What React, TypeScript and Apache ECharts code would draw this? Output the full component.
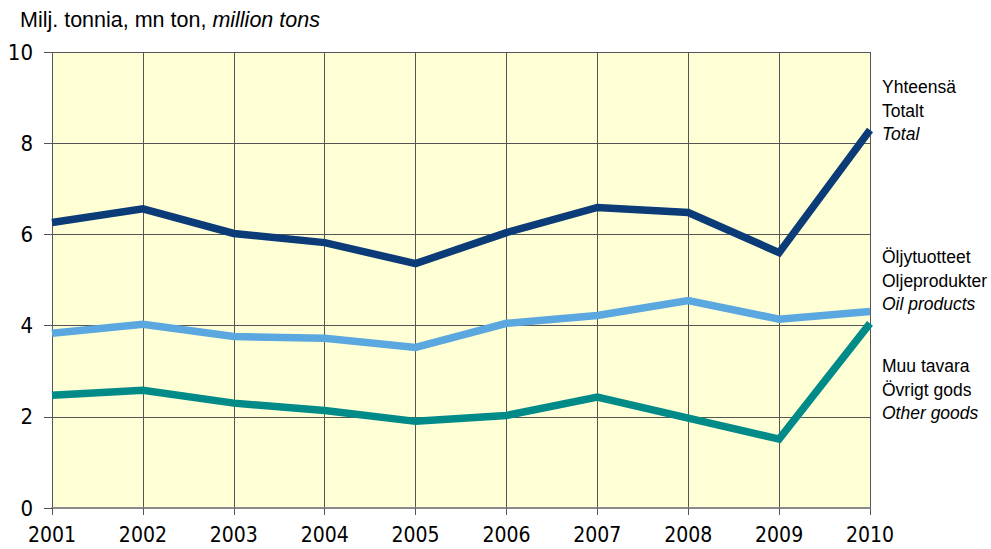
import React, { useEffect, useRef } from "react";
import * as echarts from "echarts";

const years = ["2001", "2002", "2003", "2004", "2005", "2006", "2007", "2008", "2009", "2010"];
const totalValues = [6.26, 6.56, 6.02, 5.82, 5.36, 6.04, 6.59, 6.48, 5.6, 8.29];
const oilValues = [3.83, 4.03, 3.76, 3.72, 3.52, 4.05, 4.22, 4.55, 4.14, 4.31];
const otherValues = [2.47, 2.58, 2.3, 2.14, 1.9, 2.03, 2.43, 1.97, 1.51, 4.05];
const totalLabels = ["Yhteensä", "Totalt", "Total"];
const oilLabels = ["Öljytuotteet", "Oljeprodukter", "Oil products"];
const otherLabels = ["Muu tavara", "Övrigt gods", "Other goods"];
const unitTitle = ["Milj. tonnia, mn ton, ", "million tons"];

const FONT = "Liberation Sans, Arial, sans-serif";
const NARROW = "Liberation Sans Narrow, Arial Narrow, DejaVu Sans Condensed, sans-serif";

export default function App() {
  const ref = useRef<HTMLDivElement>(null);
  useEffect(() => {
    if (!ref.current) return;
    const chart = echarts.init(ref.current, undefined, { renderer: "svg" });
    const labelBlock = (lines: string[], top: number) =>
      lines.map((t, i) => ({
        type: "text",
        left: 882,
        top: top + i * 23.5,
        style: {
          text: t,
          fontFamily: FONT,
          fontSize: 17.5,
          fontStyle: i === 2 ? "italic" : "normal",
          fill: "#000",
        },
      }));
    const mkSeries = (name: string, data: number[], color: string) => ({
      name,
      type: "line",
      data,
      symbol: "none",
      lineStyle: { color, width: 7.5, join: "miter" },
      z: 3,
    });
    chart.setOption({
      animation: false,
      backgroundColor: "#fff",
      grid: {
        left: 52,
        right: 121,
        top: 52,
        bottom: 41,
        show: true,
        backgroundColor: "#ffffd6",
        borderWidth: 0,
      },
      xAxis: {
        type: "category",
        data: years,
        boundaryGap: false,
        axisLine: { lineStyle: { color: "#8a8a8a", width: 2 } },
        axisTick: { show: true, length: 7, alignWithLabel: true, lineStyle: { color: "#555" } },
        axisLabel: { color: "#000", fontFamily: NARROW, fontSize: 21, margin: 16 },
        splitLine: { show: true, lineStyle: { color: "#555", width: 1 } },
      },
      yAxis: {
        type: "value",
        min: 0,
        max: 10,
        interval: 2,
        axisLine: { show: false },
        axisTick: { show: true, length: 8, lineStyle: { color: "#555" } },
        axisLabel: { color: "#000", fontFamily: NARROW, fontSize: 22, margin: 19 },
        splitLine: { show: true, lineStyle: { color: "#555", width: 1 } },
      },
      series: [
        mkSeries("Total", totalValues, "#0b3c78"),
        mkSeries("Oil products", oilValues, "#5ba7df"),
        mkSeries("Other goods", otherValues, "#008a88"),
      ],
      graphic: [
        {
          type: "text",
          left: 20,
          top: 9,
          style: {
            text: `{n|${unitTitle[0]}}{i|${unitTitle[1]}}`,
            rich: {
              n: { fontFamily: FONT, fontSize: 21.5, fill: "#000" },
              i: { fontFamily: FONT, fontSize: 21.5, fontStyle: "italic", fill: "#000" },
            },
          },
        },
        ...labelBlock(totalLabels, 78),
        ...labelBlock(oilLabels, 248),
        ...labelBlock(otherLabels, 357),
      ],
    });
    return () => chart.dispose();
  }, []);
  return <div ref={ref} style={{ width: 991, height: 549, position: "absolute", left: 0, top: 0 }} />;
}
